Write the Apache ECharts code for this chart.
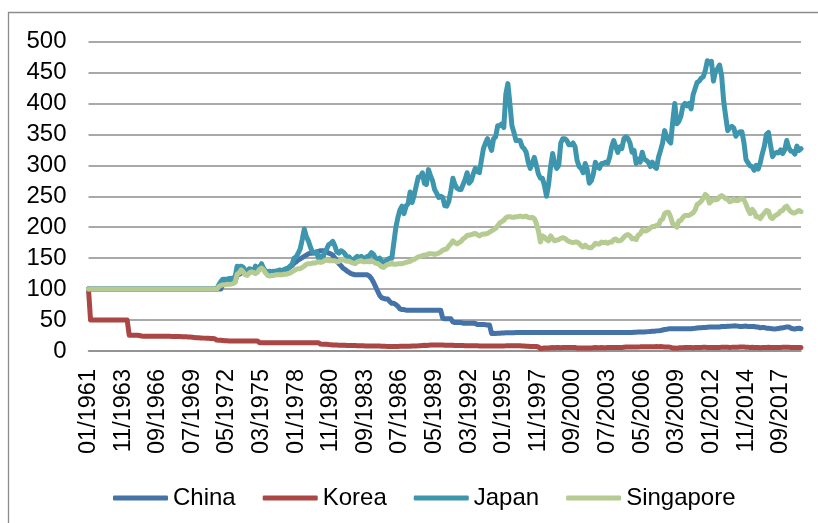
<!DOCTYPE html>
<html>
<head>
<meta charset="utf-8">
<script src="https://cdn.jsdelivr.net/npm/echarts@6/dist/echarts.min.js"></script>
<style>
html,body{margin:0;padding:0;background:#fff;}
#chart{width:818px;height:523px;}
</style>
</head>
<body>
<div id="chart"></div>
<script>
// Bimonthly observations: Jan, Mar, May, Jul, Sep, Nov of each year, 01/1961 .. 05/2019
const seriesNames = ["China", "Korea", "Japan", "Singapore"];
const tickLabels = ["01/1961","11/1963","09/1966","07/1969","05/1972","03/1975","01/1978","11/1980","09/1983","07/1986","05/1989","03/1992","01/1995","11/1997","09/2000","07/2003","05/2006","03/2009","01/2012","11/2014","09/2017"];
const yTicks = [0, 50, 100, 150, 200, 250, 300, 350, 400, 450, 500];

const china = [
100,100,100,100,100,100, 100,100,100,100,100,100, 100,100,100,100,100,100, 100,100,100,100,100,100, 100,100,100,100,100,100,
100,100,100,100,100,100, 100,100,100,100,100,100, 100,100,100,100,100,100, 100,100,100,100,100,100, 100,100,100,100,100,100,
100,100,100,100,100,100, // 1971
109,109,109,110,110,110, // 1972
112,123,124,126,130,126, // 1973
124,127,130,129,127,132, // 1974
136,139,133,129,127,127, // 1975
127,128,128,129,129,130, // 1976
131,132,133,136,138,142, // 1977
144,147,149,151,153,155, // 1978
157,158,158,159,160,161, // 1979
162,162,161,160,158,157, // 1980
155,150,146,141,138,134, // 1981
132,129,127,125,124,123, // 1982
123,123,123,123,123,123, // 1983
121,117,111,104,97,90,   // 1984
86,85,84,84,80,77,       // 1985
77,75,72,68,67,67,       // 1986
66,66,66,66,66,66,       // 1987
66,66,66,66,66,66,       // 1988
66,66,66,66,66,66,       // 1989
53,52,52,52,52,47,       // 1990
46,46,46,46,45,45,       // 1991
45,45,45,45,44.5,43,     // 1992
43,43,43,42.5,42,42,     // 1993
28.3,28.5,28.4,28.5,28.6,29.1, // 1994
29.2,29.4,29.5,29.6,29.6,29.6, // 1995
29.7,29.7,29.7,29.7,29.7,29.7, 29.7,29.7,29.7,29.7,29.7,29.7, 29.7,29.7,29.7,29.7,29.7,29.7,
29.7,29.7,29.7,29.7,29.7,29.7, 29.7,29.7,29.7,29.7,29.7,29.7, 29.7,29.7,29.7,29.7,29.7,29.7,
29.7,29.7,29.7,29.7,29.7,29.7, 29.7,29.7,29.7,29.7,29.7,29.7, 29.7,29.7,29.7,29.7,29.7,29.7, // 1996-2004
29.7,29.7,29.7,29.9,30.4,30.4, // 2005
30.5,30.6,30.7,30.8,30.9,31.3, // 2006
31.6,31.8,32.0,32.5,32.8,33.2, // 2007
33.9,34.7,35.2,35.8,36.0,36.0, // 2008
36.0,36.0,36.0,36.0,36.0,36.0, // 2009
36.0,36.0,36.0,36.3,36.6,37.0, // 2010
37.4,37.5,37.9,38.1,38.5,38.7, // 2011
38.9,38.9,38.9,38.6,38.8,39.5, // 2012
39.6,39.6,40.0,40.1,40.2,40.4, // 2013
40.6,40.2,39.5,39.7,40.0,40.2, // 2014
39.6,39.4,39.7,39.6,38.7,38.6, // 2015
37.4,37.8,37.8,36.9,36.9,36.2, // 2016
35.8,35.7,35.8,36.3,37.3,37.2, // 2017
38.2,38.9,38.8,36.8,36.0,35.4, // 2018
36.4,36.7,36.0                 // 2019
];

const korea = [
100,50,50,50,50,50,      // 1961
50,50,50,50,50,50,       // 1962
50,50,50,50,50,50,       // 1963
50,50,25.5,25.5,25.5,25.5, // 1964
25.5,25,24.2,24,24,24,   // 1965
24,24,24,24,24,23.9,     // 1966
23.9,23.8,23.8,23.7,23.7,23.6, // 1967
23.6,23.5,23.4,23.3,23.2,23.1, // 1968
23,22.8,22.6,22.3,21.9,21.5,   // 1969
21.3,21.1,20.9,20.8,20.6,20.5, // 1970
20.3,20.1,19.9,17.6,17.5,17.4, // 1971
17,16.5,16.4,16.3,16.3,16.3,   // 1972
16.3,16.3,16.3,16.3,16.3,16.3, // 1973
16.3,16.3,16.3,16.3,16.3,16.3, // 1974
13.4,13.4,13.4,13.4,13.4,13.4, 13.4,13.4,13.4,13.4,13.4,13.4, 13.4,13.4,13.4,13.4,13.4,13.4,
13.4,13.4,13.4,13.4,13.4,13.4, 13.4,13.4,13.4,13.4,13.4,13.4, // 1975-1979
11.2,11.1,10.9,10.8,10.4,10.1, // 1980
9.8,9.6,9.5,9.4,9.3,9.3,       // 1981
9.2,9.0,8.9,8.8,8.7,8.7,       // 1982
8.6,8.5,8.4,8.3,8.2,8.2,       // 1983
8.1,8.1,8.1,8.0,8.0,7.9,       // 1984
7.8,7.7,7.5,7.4,7.3,7.3,       // 1985
7.3,7.4,7.4,7.5,7.5,7.6,       // 1986
7.6,7.7,7.8,8.0,8.1,8.2,       // 1987
8.3,8.6,8.9,9.1,9.0,9.4,       // 1988
9.6,9.7,9.7,9.6,9.6,9.6,       // 1989
9.5,9.4,9.2,9.1,9.1,9.1,       // 1990
9.0,9.0,8.9,8.8,8.7,8.6,       // 1991
8.5,8.4,8.3,8.3,8.3,8.3,       // 1992
8.2,8.2,8.1,8.1,8.0,8.0,       // 1993
8.0,8.1,8.1,8.1,8.2,8.2,       // 1994
8.2,8.3,8.5,8.5,8.4,8.4,       // 1995
8.3,8.3,8.3,8.1,8.0,7.8,       // 1996
7.6,7.3,7.3,7.3,7.2,6.4,       // 1997
3.8,4.3,4.7,5.0,4.7,5.2,       // 1998
5.5,5.3,5.5,5.5,5.4,5.6,       // 1999
5.8,5.8,5.8,5.8,5.8,5.5,       // 2000
5.0,5.0,5.0,5.0,5.0,5.0,       // 2001
4.9,4.9,5.2,5.5,5.4,5.3,       // 2002
5.5,5.3,5.4,5.5,5.5,5.5,       // 2003
5.5,5.6,5.6,5.6,5.6,6.0,       // 2004
6.3,6.4,6.5,6.3,6.3,6.3,       // 2005
6.6,6.7,6.9,6.8,6.8,7.0,       // 2006
6.9,6.9,7.0,7.1,7.0,7.1,       // 2007
6.9,6.6,6.3,6.4,5.8,4.7,       // 2008
4.8,4.5,5.1,5.1,5.3,5.6,       // 2009
5.7,5.7,5.6,5.4,5.6,5.7,       // 2010
5.8,5.8,6.0,6.1,5.8,5.7,       // 2011
5.7,5.8,5.7,5.7,5.8,6.0,       // 2012
6.1,5.9,5.9,5.8,5.9,6.1,       // 2013
6.1,6.1,6.3,6.4,6.3,5.9,       // 2014
5.9,5.8,5.9,5.7,5.5,5.6,       // 2015
5.4,5.5,5.5,5.6,5.9,5.6,       // 2016
5.5,5.7,5.8,5.7,5.7,5.9,       // 2017
6.1,6.1,6.0,5.8,5.8,5.8,       // 2018
5.8,5.7,5.5                    // 2019
];

const japan = [
100,100,100,100,100,100, 100,100,100,100,100,100, 100,100,100,100,100,100, 100,100,100,100,100,100, 100,100,100,100,100,100,
100,100,100,100,100,100, 100,100,100,100,100,100, 100,100,100,100,100,100, 100,100,100,100,100,100, 100,100,100,100,100,100,
100,100,100,100,107,112, // 1971
116,116,116,117,117,118, // 1972
119,137,136,137,135,130, // 1973
126,133,132,128,137,134, // 1974
134,141,132,129,128,129, // 1975
128,129,129,130,131,130, // 1976
131,133,134,137,140,150, // 1977
152,158,165,180,197,185, // 1978
178,168,160,158,160,150, // 1979
153,148,160,165,172,174, // 1980
177,170,160,158,162,160, // 1981
157,150,152,148,146,150, // 1982
153,151,153,150,150,153, // 1983
154,159,156,150,148,150, // 1984
145,143,145,148,150,150, // 1985
175,200,216,228,234,222, // 1986
234,238,257,240,252,267, // 1987
281,281,288,271,269,293, // 1988
283,275,261,255,248,250, // 1989
248,235,234,242,259,279, // 1990
269,263,261,261,269,277, // 1991
288,271,275,286,295,290, // 1992
288,308,327,336,343,333, // 1993
324,343,346,364,364,367, // 1994
361,415,432,400,364,353, // 1995
340,340,340,330,327,321, // 1996
305,295,303,313,300,286, // 1997
279,279,267,250,269,298, // 1998
319,303,295,300,336,343, // 1999
343,340,333,333,336,330, // 2000
308,298,295,288,303,293, // 2001
271,275,286,305,298,295, // 2002
303,303,305,303,313,330, // 2003
340,330,321,330,327,343, // 2004
346,343,336,321,324,303, // 2005
310,305,321,310,308,305, // 2006
298,305,298,295,313,324, // 2007
336,356,346,340,336,371, // 2008
400,367,371,379,396,400, // 2009
396,400,391,414,424,434, // 2010
436,441,443,453,469,465, // 2011
468,436,452,456,462,445, // 2012
404,379,356,361,363,360, // 2013
347,352,354,354,336,309, // 2014
304,299,298,292,300,294, // 2015
304,319,331,350,353,333, // 2016
314,319,321,320,325,319, // 2017
325,340,328,323,322,318, // 2018
331,324,327              // 2019
];

const singapore = [
100,100,100,100,100,100, 100,100,100,100,100,100, 100,100,100,100,100,100, 100,100,100,100,100,100, 100,100,100,100,100,100,
100,100,100,100,100,100, 100,100,100,100,100,100, 100,100,100,100,100,100, 100,100,100,100,100,100, 100,100,100,100,100,100,
100,100,100,100,104,106, // 1971
107,107,108,108,108,109, // 1972
111,124,126,131,128,123, // 1973
122,126,128,127,125,127, // 1974
132,134,131,126,122,121, // 1975
122,122,123,123,123,123, // 1976
124,124,125,126,128,130, // 1977
132,133,133,135,137,140, // 1978
141,141,142,142,143,144, // 1979
143,144,146,147,146,146, // 1980
146,146,144,145,147,148, // 1981
146,145,145,143,142,141, // 1982
144,145,146,144,144,145, // 1983
144,145,144,142,141,139, // 1984
136,135,138,140,140,142, // 1985
140,140,141,141,141,142, // 1986
143,144,145,147,148,150, // 1987
152,153,154,155,155,157, // 1988
157,157,156,157,158,160, // 1989
163,164,165,170,173,178, // 1990
175,173,175,177,181,183, // 1991
187,187,188,189,190,188, // 1992
186,188,189,189,190,192, // 1993
194,196,198,202,207,209, // 1994
211,215,217,217,216,216, // 1995
217,217,218,217,217,218, // 1996
216,215,216,214,206,194, // 1997
176,186,184,180,178,186, // 1998
181,178,179,180,182,183, // 1999
182,179,177,176,175,176, // 2000
176,174,170,168,171,168, // 2001
167,167,170,174,173,173, // 2002
176,175,176,174,176,176, // 2003
180,181,178,178,180,184, // 2004
187,188,186,181,182,180, // 2005
187,189,195,194,194,196, // 2006
199,201,201,203,203,211, // 2007
213,222,224,224,216,205, // 2008
204,200,210,211,216,219, // 2009
219,219,221,223,228,237, // 2010
239,242,247,253,250,239, // 2011
242,245,244,245,249,251, // 2012
249,246,245,241,242,245, // 2013
243,243,245,246,244,237, // 2014
228,222,229,225,217,217, // 2015
214,219,223,227,226,216, // 2016
214,218,220,222,226,227, // 2017
232,234,229,225,223,223, // 2018
225,227,225              // 2019
];

const colors = ["#4572A7", "#AA4643", "#3D96AE", "#B5CB92"];

// category labels MM/YYYY (bimonthly), same length as the series
const categories = [];
const months = ["01","03","05","07","09","11"];
for (let y = 1961; categories.length < japan.length; y++) {
  for (const mm of months) {
    if (categories.length < japan.length) categories.push(mm + "/" + y);
  }
}

const FONT = "'Liberation Sans', Arial, sans-serif";
const chart = echarts.init(document.getElementById('chart'), null, {renderer: 'canvas'});
const dataSets = [china, korea, japan, singapore];

chart.setOption({
  animation: false,
  backgroundColor: '#ffffff',
  color: colors,
  graphic: [{
    type: 'rect', silent: true, z: 100,
    shape: {x: 8.5, y: 12.5, width: 900, height: 600},
    style: {fill: 'none', stroke: '#8c8c8c', lineWidth: 1.3}
  }],
  grid: {left: 88.5, right: 17, top: 41.5, bottom: 172, containLabel: false},
  legend: {
    data: seriesNames,
    left: 108, top: 481,
    icon: 'roundRect',
    itemWidth: 55, itemHeight: 5, itemGap: 27,
    textStyle: {fontFamily: FONT, fontSize: 24, color: '#000'}
  },
  xAxis: {
    type: 'category',
    data: categories,
    boundaryGap: false,
    axisLine: {show: true, lineStyle: {color: '#8c8c8c', width: 1.5}},
    axisTick: {show: false},
    splitLine: {show: false},
    axisLabel: {
      rotate: 90, margin: 18,
      interval: function (i, v) { return tickLabels.indexOf(v) >= 0; },
      fontFamily: FONT, fontSize: 23.5, color: '#000'
    }
  },
  yAxis: {
    type: 'value',
    min: yTicks[0], max: yTicks[yTicks.length - 1], interval: yTicks[1] - yTicks[0],
    axisLine: {show: false},
    axisTick: {show: false},
    splitLine: {show: true, lineStyle: {color: '#8c8c8c', width: 1.5}},
    axisLabel: {margin: 22, fontFamily: FONT, fontSize: 24, color: '#000'}
  },
  series: seriesNames.map((n, i) => ({
    name: n,
    type: 'line',
    data: dataSets[i],
    showSymbol: false,
    symbol: 'none',
    lineStyle: {width: 5, color: colors[i], cap: 'round', join: 'round'},
    itemStyle: {color: colors[i]},
    emphasis: {disabled: true}
  }))
});
</script>
</body>
</html>
